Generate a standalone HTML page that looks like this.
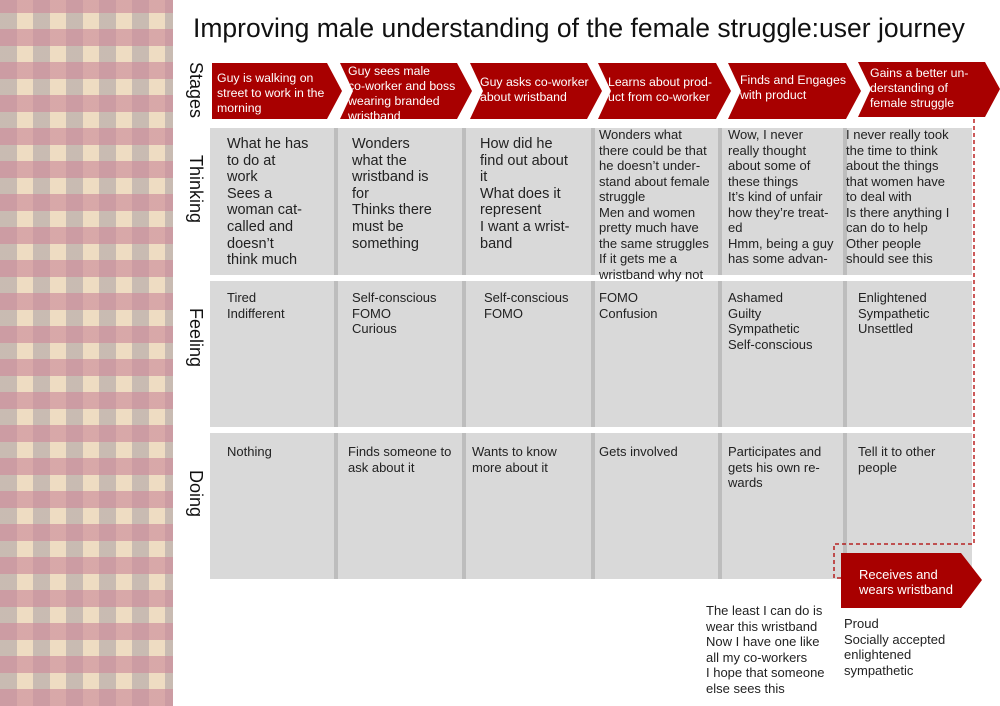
<!DOCTYPE html>
<html><head><meta charset="utf-8">
<style>
body{margin:0;width:1000px;height:706px;background:#fff;position:relative;overflow:hidden;font-family:"Liberation Sans",sans-serif;}
.side{position:absolute;left:0;top:0;width:173px;height:706px;background-color:#eedcc2;
background-image:repeating-linear-gradient(0deg,rgba(205,140,155,.65) 0 17px,rgba(0,0,0,0) 17px 33px),repeating-linear-gradient(90deg,rgba(170,160,165,.55) 0 17px,rgba(0,0,0,0) 17px 33px);}
.title{position:absolute;left:193px;top:13px;font-size:26.5px;color:#111;white-space:nowrap;}
.rl{position:absolute;font-size:18px;color:#111;transform:rotate(90deg);transform-origin:left top;white-space:nowrap;}
.arr{position:absolute;background:#a80000;color:#fff;font-size:12.3px;line-height:15px;padding-top:4px;box-sizing:border-box;}
.g{position:absolute;background:#d9d9d9;}
.sep{position:absolute;width:4px;background:#bdbdbd;}
.t{position:absolute;font-size:13px;line-height:15.5px;color:#222;white-space:nowrap;}
.t.b{font-size:14.5px;line-height:16.6px;}
</style></head><body>
<div class="side"></div>
<div class="title">Improving male understanding of the female struggle:user journey</div>
<div class="rl" style="left:206px;top:62px">Stages</div>
<div class="rl" style="left:206px;top:155px">Thinking</div>
<div class="rl" style="left:206px;top:308px">Feeling</div>
<div class="rl" style="left:206px;top:470px">Doing</div>

<div class="arr" style="left:212px;top:63px;width:130px;height:56px;padding-left:5px;padding-top:8px;clip-path:polygon(0 0,115px 0,130px 28px,115px 56px,0 56px)">Guy is walking on<br>street to work in the<br>morning</div>
<div class="arr" style="left:340px;top:63px;width:132px;height:56px;padding-left:8px;padding-top:1px;clip-path:polygon(0 0,117px 0,132px 28px,117px 56px,0 56px,13px 28px)">Guy sees male<br>co-worker and boss<br>wearing branded<br>wristband</div>
<div class="arr" style="left:470px;top:63px;width:132px;height:56px;padding-left:10px;padding-top:12px;clip-path:polygon(0 0,117px 0,132px 28px,117px 56px,0 56px,13px 28px)">Guy asks co-worker<br>about wristband</div>
<div class="arr" style="left:598px;top:63px;width:133px;height:56px;padding-left:10px;padding-top:12px;clip-path:polygon(0 0,118px 0,133px 28px,118px 56px,0 56px,13px 28px)">Learns about prod-<br>uct from co-worker</div>
<div class="arr" style="left:728px;top:63px;width:133px;height:56px;padding-left:12px;padding-top:10px;clip-path:polygon(0 0,118px 0,133px 28px,118px 56px,0 56px,13px 28px)">Finds and Engages<br>with product</div>
<div class="arr" style="left:858px;top:62px;width:142px;height:55px;padding-left:12px;padding-top:4px;clip-path:polygon(0 0,127px 0,142px 27px,127px 55px,0 55px,13px 27px)">Gains a better un-<br>derstanding of<br>female struggle</div>

<div class="g" style="left:210px;top:128px;width:762px;height:147px"></div>
<div class="g" style="left:210px;top:281px;width:762px;height:146px"></div>
<div class="g" style="left:210px;top:433px;width:762px;height:146px"></div>
<div class="sep" style="left:334px;top:128px;height:451px"></div>
<div class="sep" style="left:462px;top:128px;height:451px"></div>
<div class="sep" style="left:591px;top:128px;height:451px"></div>
<div class="sep" style="left:718px;top:128px;height:451px"></div>
<div class="sep" style="left:843px;top:128px;height:451px"></div>
<div style="position:absolute;left:209px;top:275px;width:770px;height:6px;background:#fff"></div>
<div style="position:absolute;left:209px;top:427px;width:770px;height:6px;background:#fff"></div>

<div class="t b" style="left:227px;top:136px">What he has<br>to do at<br>work<br>Sees a<br>woman cat-<br>called and<br>doesn’t<br>think much</div>
<div class="t b" style="left:352px;top:136px">Wonders<br>what the<br>wristband is<br>for<br>Thinks there<br>must be<br>something</div>
<div class="t b" style="left:480px;top:136px">How did he<br>find out about<br>it<br>What does it<br>represent<br>I want a wrist-<br>band</div>
<div class="t" style="left:599px;top:127px">Wonders what<br>there could be that<br>he doesn’t under-<br>stand about female<br>struggle<br>Men and women<br>pretty much have<br>the same struggles<br>If it gets me a<br>wristband why not</div>
<div class="t" style="left:728px;top:127px">Wow, I never<br>really thought<br>about some of<br>these things<br>It’s kind of unfair<br>how they’re treat-<br>ed<br>Hmm, being a guy<br>has some advan-</div>
<div class="t" style="left:846px;top:127px">I never really took<br>the time to think<br>about the things<br>that women have<br>to deal with<br>Is there anything I<br>can do to help<br>Other people<br>should see this</div>

<div class="t" style="left:227px;top:290px">Tired<br>Indifferent</div>
<div class="t" style="left:352px;top:290px">Self-conscious<br>FOMO<br>Curious</div>
<div class="t" style="left:484px;top:290px">Self-conscious<br>FOMO</div>
<div class="t" style="left:599px;top:290px">FOMO<br>Confusion</div>
<div class="t" style="left:728px;top:290px">Ashamed<br>Guilty<br>Sympathetic<br>Self-conscious</div>
<div class="t" style="left:858px;top:290px">Enlightened<br>Sympathetic<br>Unsettled</div>

<div class="t" style="left:227px;top:444px">Nothing</div>
<div class="t" style="left:348px;top:444px">Finds someone to<br>ask about it</div>
<div class="t" style="left:472px;top:444px">Wants to know<br>more about it</div>
<div class="t" style="left:599px;top:444px">Gets involved</div>
<div class="t" style="left:728px;top:444px">Participates and<br>gets his own re-<br>wards</div>
<div class="t" style="left:858px;top:444px">Tell it to other<br>people</div>

<svg style="position:absolute;left:0;top:0" width="1000" height="706">
<polyline points="974,119 974,544 834,544 834,578 843,578" fill="none" stroke="#b00000" stroke-width="1.3" stroke-dasharray="4,3"/>
</svg>
<div class="arr" style="left:841px;top:553px;width:141px;height:55px;padding-left:18px;padding-top:14px;font-size:13px;clip-path:polygon(0 0,120px 0,141px 27px,120px 55px,0 55px)">Receives and<br>wears wristband</div>
<div class="t" style="left:706px;top:603px">The least I can do is<br>wear this wristband<br>Now I have one like<br>all my co-workers<br>I hope that someone<br>else sees this</div>
<div class="t" style="left:844px;top:616px">Proud<br>Socially accepted<br>enlightened<br>sympathetic</div>
</body></html>
